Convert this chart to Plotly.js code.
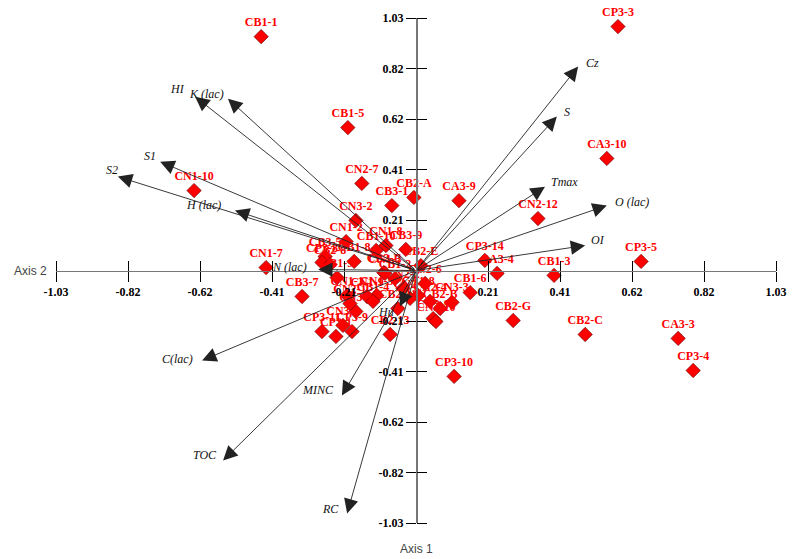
<!DOCTYPE html>
<html><head><meta charset="utf-8">
<script src="https://cdn.plot.ly/plotly-3.0.1.min.js"></script>
<style>html,body{margin:0;padding:0;background:#fff}</style>
</head><body><div id="chart" style="width:792px;height:559px"></div>
<script>
// Sample scores (horizontal / vertical coordinates)
const sampleNames = ["CB1-1","CP3-3","CB1-5","CA3-10","CA3-2","CN2-7","CN1-10","CB3-1","CB2-A","CA3-9",
  "CN2-12","CN3-2","CN1-2","CN1-8","CB1-10","CB3-9","CB2-E","CB2-F","CN1-7","CB3-7",
  "CP3-14","CA3-4","CB1-6","CN3-3","CB2-B","CB2-G","CB1-3","CP3-5","CB2-C","CA3-3",
  "CP3-4","CP3-10","CA1-8","CN2-4","CN2-9","CN2-10","CB3-5","CP3-8","CB2-8","CB1-8",
  "CB1-9","CN1-9","CN1-5","CN1-1","CN3-1","CP3-9","CP3-1","CP3-11","CN3-5","CB2-13",
  "CB1-4","CN2-1","CB1-2","CN1-3","CN2-2","CN2-3","CB2-11","CN2-6"];
const scoreH = [-0.443,0.578,-0.195,0.546,1.033,-0.155,-0.635,-0.069,-0.006,0.123,
  0.349,-0.172,-0.200,-0.086,-0.114,-0.029,0.014,-0.092,-0.429,-0.326,
  0.197,0.232,0.155,0.103,0.069,0.278,0.395,0.644,0.484,0.750,
  0.793,0.109,0.006,0.040,0.049,0.057,-0.260,-0.269,-0.246,-0.177,
  -0.226,-0.140,-0.112,-0.197,-0.172,-0.183,-0.229,-0.269,-0.209,-0.074,
  -0.123,-0.189,-0.060,-0.089,-0.037,-0.017,-0.052,0.026];
const scoreV = [0.954,0.995,0.583,0.457,0.338,0.355,0.326,0.265,0.298,0.285,
  0.212,0.204,0.118,0.102,0.082,0.086,0.020,-0.008,0.012,-0.106,
  0.041,-0.012,-0.090,-0.130,-0.155,-0.204,-0.020,0.037,-0.261,-0.277,
  -0.408,-0.432,-0.102,-0.126,-0.196,-0.208,0.057,0.033,0.024,0.037,
  -0.029,-0.106,-0.102,-0.102,-0.167,-0.249,-0.269,-0.249,-0.224,-0.261,
  -0.126,-0.135,-0.033,-0.012,-0.073,-0.114,-0.155,-0.053];

// Variable vectors (arrow tips) and their label positions
const varNames = ["Cz","S","Tmax","O (lac)","OI","HI","K (lac)","S1","S2","H (lac)","N (lac)","Hu","C(lac)","MINC","TOC","RC"];
const varH = [0.464,0.403,0.369,0.546,0.484,-0.632,-0.538,-0.732,-0.853,-0.518,-0.280,-0.046,-0.612,-0.212,-0.552,-0.197];
const varV = [0.832,0.628,0.342,0.265,0.102,0.709,0.701,0.444,0.383,0.245,0.004,-0.147,-0.367,-0.510,-0.775,-0.991];
const varLabelH = [0.506,0.432,0.426,0.618,0.521,-0.681,-0.598,-0.761,-0.870,-0.609,-0.361,-0.086,-0.681,-0.280,-0.604,-0.246];
const varLabelV = [0.847,0.648,0.359,0.281,0.126,0.742,0.722,0.469,0.408,0.269,0.016,-0.171,-0.359,-0.489,-0.754,-0.974];

const tickValues = [-1.03,-0.824,-0.618,-0.412,-0.206,0.206,0.412,0.618,0.824,1.03];
const tickLabels = ["-1.03","-0.82","-0.62","-0.41","-0.21","0.21","0.41","0.62","0.82","1.03"];

const tickFont = {family:"Liberation Serif, Times New Roman, serif", size:12, color:"#000", weight:"bold"};
const R = [-1.03, 1.03];

const traces = [
  {type:"scatter", mode:"markers+text", x:scoreH, y:scoreV, text:sampleNames,
   textposition:"top center", cliponaxis:false, hoverinfo:"text",
   textfont:{family:"Liberation Serif, Times New Roman, serif", size:12, color:"#ff0000", weight:"bold"},
   marker:{symbol:"diamond", size:11, color:"#ff0000", line:{color:"#700000", width:0.7}}},
  {type:"scatter", mode:"markers", x:[], y:[], xaxis:"x2", yaxis:"y2", showlegend:false, hoverinfo:"skip"}
];

const annotations = [];
varNames.forEach((n,i)=>{
  annotations.push({x:varH[i], y:varV[i], xref:"x", yref:"y", ax:0, ay:0, axref:"x", ayref:"y",
    text:"", showarrow:true, arrowhead:2, arrowsize:3.2, arrowwidth:0.9, arrowcolor:"#222", standoff:0, startstandoff:0});
  annotations.push({x:varLabelH[i], y:varLabelV[i], xref:"x", yref:"y", text:n, showarrow:false,
    xanchor:"center", yanchor:"middle",
    font:{family:"Liberation Serif, Times New Roman, serif", size:12, color:"#111", style:"italic"}});
});
annotations.push({x:-0.036, y:0.5, xref:"paper", yref:"paper", text:"Axis 2", showarrow:false,
  xanchor:"center", yanchor:"middle", font:{family:"Liberation Sans, Arial, sans-serif", size:12, color:"#444"}});
annotations.push({x:0.5, y:-0.052, xref:"paper", yref:"paper", text:"Axis 1", showarrow:false,
  xanchor:"center", yanchor:"middle", font:{family:"Liberation Sans, Arial, sans-serif", size:12, color:"#444"}});

const axBase = {range:R, showgrid:false, zeroline:false, tickmode:"array", tickvals:tickValues,
  ticks:"outside", ticklen:10, tickwidth:1, tickcolor:"#000", anchor:"free", position:0.5, fixedrange:true};

const layout = {
  width:792, height:559, margin:{l:56, r:16, t:18, b:36},
  paper_bgcolor:"#fff", plot_bgcolor:"#fff", showlegend:false,
  xaxis:Object.assign({}, axBase, {side:"bottom", ticktext:tickLabels, showline:true, linecolor:"#777", linewidth:1.5, tickfont:tickFont}),
  yaxis:Object.assign({}, axBase, {side:"left", ticktext:tickLabels, showline:true, linecolor:"#777", linewidth:1.5, tickfont:tickFont}),
  xaxis2:Object.assign({}, axBase, {side:"top", overlaying:"x", showticklabels:false, showline:false}),
  yaxis2:Object.assign({}, axBase, {side:"right", overlaying:"y", showticklabels:false, showline:false}),
  annotations:annotations
};

Plotly.newPlot("chart", traces, layout, {displayModeBar:false, staticPlot:true});
</script></body></html>
